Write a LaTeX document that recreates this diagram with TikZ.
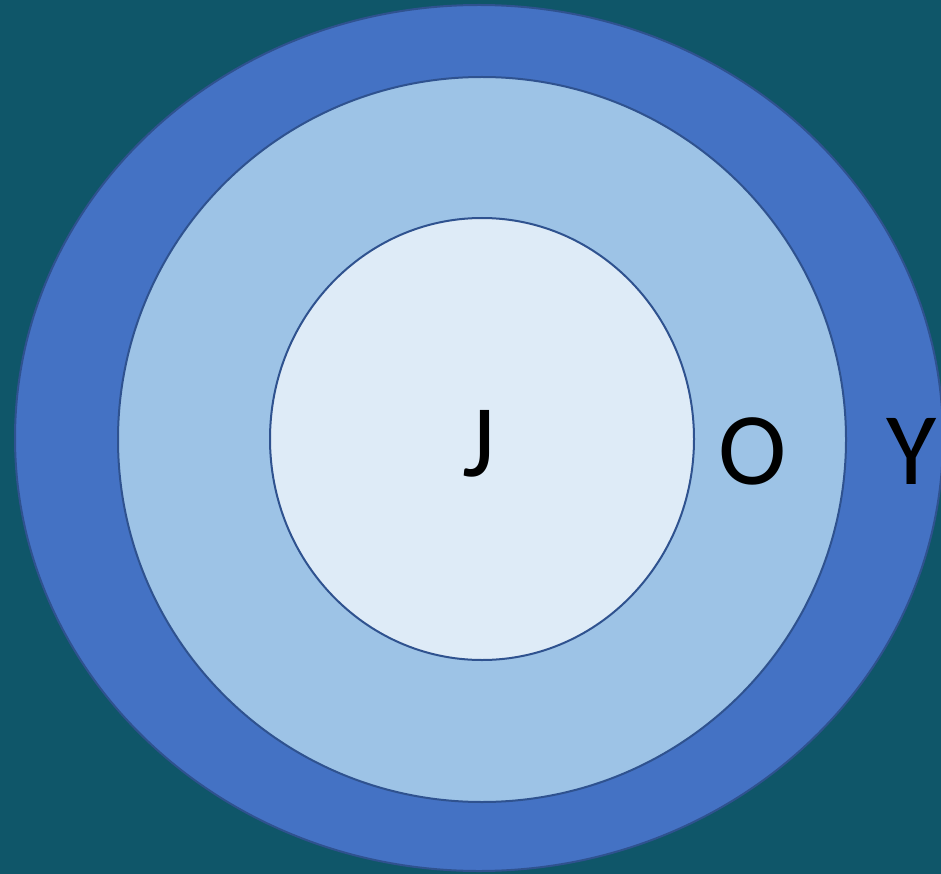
\documentclass[tikz,border=0pt]{standalone}
\usepackage{fontspec}
\setmainfont{Carlito}
\definecolor{bgteal}{HTML}{0F5669}
\definecolor{ringY}{HTML}{4472C4}
\definecolor{ringO}{HTML}{9DC3E6}
\definecolor{ringJ}{HTML}{DEEBF7}
\definecolor{ringedge}{HTML}{2F528F}
\begin{document}
\begin{tikzpicture}[x=1pt,y=-1pt,
  ring/.style={draw=ringedge,line width=2pt},
  lab/.style={font=\fontsize{103}{110}\selectfont,inner sep=0pt,anchor=base}]
  % page and background
  \fill[bgteal] (0,0) rectangle (941,874);
  \useasboundingbox (0,0) rectangle (941,874);
  \clip (0,0) rectangle (941,874);
  % centres of the three rings
  \coordinate (cY) at (479,438);
  \coordinate (cO) at (482,439.5);
  \coordinate (cJ) at (482,439);
  % rings, outer to inner
  \draw[ring,fill=ringY] (cY) ellipse [x radius=464,y radius=433];
  \draw[ring,fill=ringO] (cO) ellipse [x radius=364,y radius=362.5];
  \draw[ring,fill=ringJ] (cJ) ellipse [x radius=212,y radius=221];
  % labels
  \node[lab] (J) at (479,476) {J};
  \node[lab] (O) at (753,484) {O};
  \node[lab] (Y) at (912,484) {Y};
\end{tikzpicture}
\end{document}
